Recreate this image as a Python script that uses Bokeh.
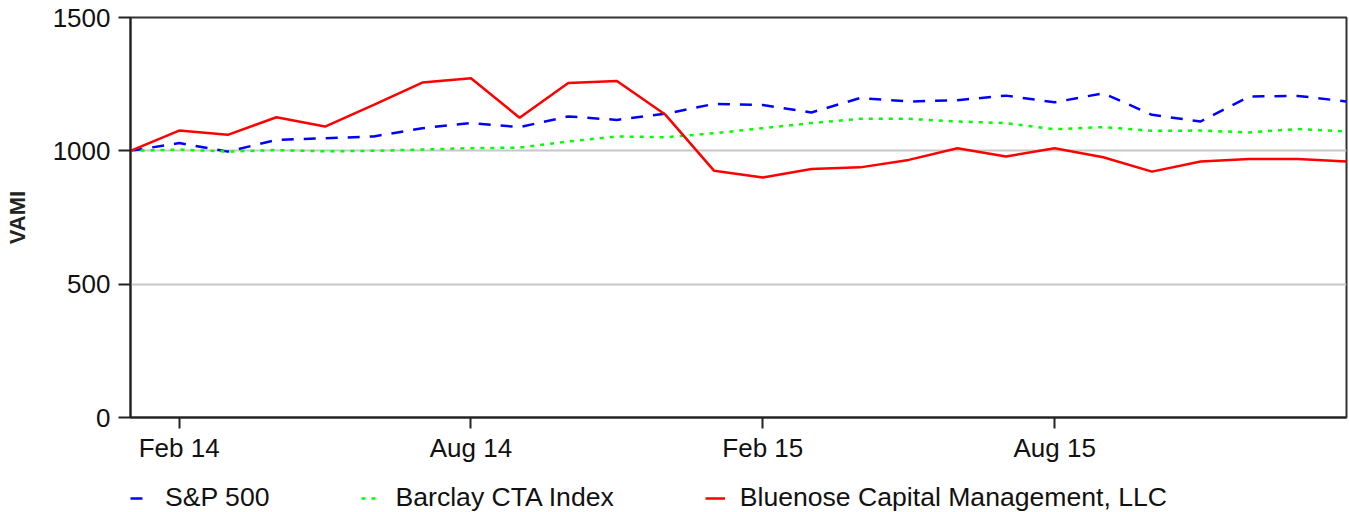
from bokeh.plotting import figure
from bokeh.models import Range1d, FixedTicker, Legend, LegendItem
from bokeh.layouts import column
from bokeh.embed import file_html
from bokeh.resources import INLINE

# Monthly points, Jan 2014 .. Feb 2016 (index 0..25)
months = list(range(26))
tick_positions = [1, 7, 13, 19]
tick_labels = ["Feb 14", "Aug 14", "Feb 15", "Aug 15"]

sp500 = [1000, 1029, 997, 1041, 1047, 1054, 1085, 1104, 1089, 1129, 1116, 1139,
         1176, 1172, 1144, 1198, 1185, 1190, 1207, 1182, 1216, 1135, 1110, 1204,
         1206, 1185]
barclay = [1000, 1005, 997, 1003, 998, 1000, 1005, 1010, 1012, 1035, 1054, 1051,
           1066, 1085, 1104, 1120, 1120, 1110, 1104, 1081, 1089, 1075, 1076, 1069,
           1082, 1073]
bluenose = [1000, 1076, 1060, 1126, 1091, 1172, 1256, 1272, 1124, 1254, 1262, 1135,
            925, 900, 932, 938, 966, 1010, 979, 1010, 976, 922, 960, 969,
            969, 960]

series_names = ["S&P 500", "Barclay CTA Index", "Bluenose Capital Management, LLC"]
series_colors = ["#0000ff", "#00ff00", "#ff0000"]
series_dashes = ["12 10", "4 6", "solid"]

FONT = "Liberation Sans"

p = figure(width=1349, height=462, frame_width=1216, frame_height=400,
           output_backend="svg", toolbar_location=None,
           x_range=Range1d(0, 25), y_range=Range1d(0, 1500),
           min_border_left=130, min_border_right=3, min_border_top=17,
           min_border_bottom=45)
p.background_fill_color = "white"
p.border_fill_color = "white"
p.outline_line_color = "#333333"
p.outline_line_width = 2

for ys, c, d in zip([sp500, barclay, bluenose], series_colors, series_dashes):
    p.line(months, ys, line_color=c, line_width=2.5, line_dash=d)

# axes
p.xaxis.ticker = FixedTicker(ticks=tick_positions)
p.xaxis.major_label_overrides = {t: l for t, l in zip(tick_positions, tick_labels)}
p.yaxis.ticker = FixedTicker(ticks=[0, 500, 1000, 1500])
for ax in (p.xaxis[0], p.yaxis[0]):
    ax.axis_line_color = "#222222"
    ax.axis_line_width = 2
    ax.major_tick_line_color = "#222222"
    ax.major_tick_line_width = 2
    ax.major_tick_in = 0
    ax.minor_tick_line_color = None
    ax.major_label_text_font = FONT
    ax.major_label_text_font_size = "26px"
    ax.major_label_text_color = "#111111"
p.xaxis.major_tick_out = 11
p.xaxis.major_label_standoff = 4
p.yaxis.major_tick_out = 12
p.yaxis.major_label_standoff = 8
p.yaxis.axis_label = "VAMI"
p.yaxis.axis_label_text_font = FONT
p.yaxis.axis_label_text_font_style = "bold"
p.yaxis.axis_label_text_font_size = "22px"
p.yaxis.axis_label_text_color = "#222222"
p.yaxis.axis_label_standoff = 20

p.xgrid.grid_line_color = None
p.ygrid.grid_line_color = "#c8c8c8"
p.ygrid.grid_line_width = 2

# legend strip below the chart; its lines are out of its (0..1) view,
# only their legend glyphs are shown
q = figure(width=1349, height=46, output_backend="svg", toolbar_location=None,
           x_range=Range1d(0, 1), y_range=Range1d(0, 1),
           x_axis_location=None, y_axis_location=None,
           min_border=0, min_border_left=0, min_border_right=0,
           min_border_top=0, min_border_bottom=0)
q.outline_line_color = None
q.grid.grid_line_color = None
q.background_fill_color = "white"
q.border_fill_color = "white"

legend_renderers = [q.line(months, ys, line_color=c, line_width=2.5, line_dash=d)
                    for ys, c, d in zip([sp500, barclay, bluenose], series_colors, series_dashes)]
items = [LegendItem(label=n, renderers=[r]) for n, r in zip(series_names, legend_renderers)]
legend = Legend(items=items, location=(0, -2), orientation="horizontal",
                glyph_width=20, glyph_height=30, label_height=30,
                label_standoff=15, padding=0, margin=0, spacing=91,
                label_text_font=FONT, label_text_font_size="26.6px",
                label_text_color="#111111",
                background_fill_alpha=0, border_line_color=None)
q.add_layout(legend, "center")

layout = column(p, q, spacing=0)
open("out.html", "w").write(file_html(layout, INLINE))
